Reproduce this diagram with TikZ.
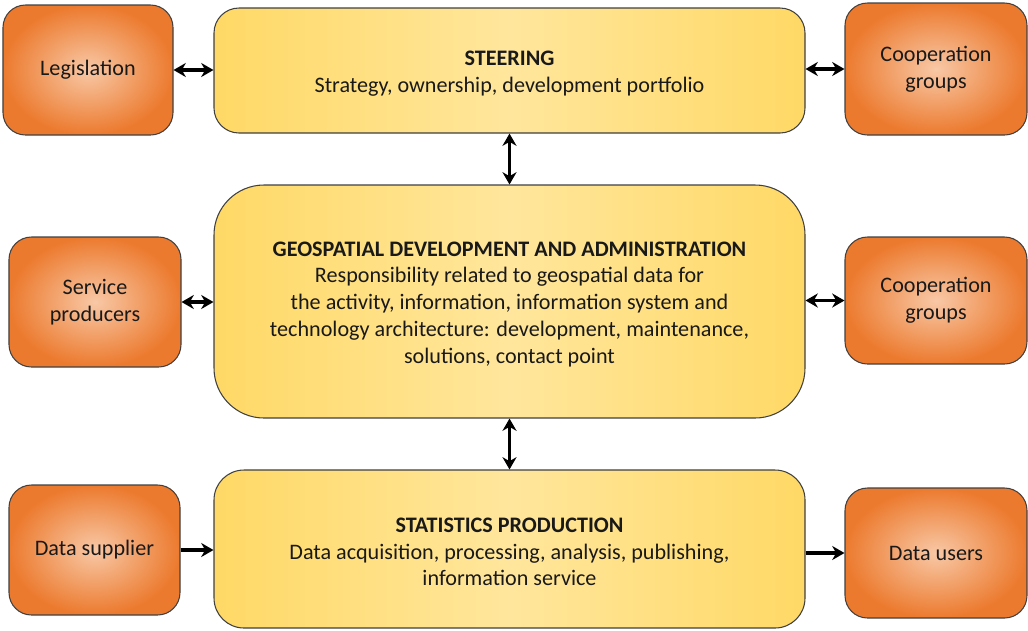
\documentclass[tikz,border=0pt]{standalone}
\usepackage{fontspec}
\setmainfont{Carlito}
\usetikzlibrary{arrows.meta,positioning}
\definecolor{orangeout}{HTML}{EC7A2E}
\definecolor{orangein}{HTML}{F8C8A6}
\definecolor{yellowside}{HTML}{FFD966}
\definecolor{yellowmid}{HTML}{FFE69C}
\definecolor{edge}{HTML}{404040}
\newcommand{\toprule}{\rule{0pt}{11.5pt}}
\tikzset{
  party/.style={draw=edge,line width=0.6pt,rounded corners=0.45cm,inner color=orangein,outer color=orangeout,
    align=center,text=black!90,font=\fontsize{12.6}{15.3}\selectfont},
  unit/.style={draw=edge,line width=0.6pt,left color=yellowside,right color=yellowside,middle color=yellowmid,
    minimum width=11.82cm,align=center,text=black!90,font=\fontsize{12.6}{15.3}\selectfont},
  link/.style={line width=2pt,{Stealth[length=7pt,width=8pt]}-{Stealth[length=7pt,width=8pt]}},
  flow/.style={line width=2pt,-{Stealth[length=7pt,width=8pt]}}
}
\begin{document}
\begin{tikzpicture}
\useasboundingbox (0,0) rectangle (20.56,-12.6);
\node[unit,rounded corners=0.5cm,minimum height=2.5cm](steer) at (10.19,-1.41){\toprule\textbf{STEERING}\\Strategy, ownership, development portfolio};
\node[unit,rounded corners=1cm,minimum height=4.66cm](geo) at (10.19,-6.03){\toprule\textbf{GEOSPATIAL DEVELOPMENT AND ADMINISTRATION}\\Responsibility related to geospatial data for\\the activity, information, information system and\\technology architecture: development, maintenance,\\solutions, contact point};
\node[unit,rounded corners=0.6cm,minimum height=3.16cm](stat) at (10.19,-10.98){\toprule\textbf{STATISTICS PRODUCTION}\\Data acquisition, processing, analysis, publishing,\\information service};

\node[party,minimum width=3.4cm,minimum height=2.6cm](legis) at (1.76,-1.4){Legislation};
\node[party,minimum width=3.64cm,minimum height=2.64cm](coopa) at (18.72,-1.38){Cooperation\\groups};
\node[party,minimum width=3.44cm,minimum height=2.6cm](prod) at (1.9,-6.04){Service\\producers};
\node[party,minimum width=3.64cm,minimum height=2.54cm](coopb) at (18.72,-6.01){Cooperation\\groups};
\node[party,minimum width=3.42cm,minimum height=2.6cm](supp) at (1.89,-11.0){Data supplier};
\node[party,minimum width=3.64cm,minimum height=2.6cm](users) at (18.72,-11.06){Data users};

\draw[link](legis.east)--(legis.east-|steer.west);
\draw[link](steer.east|-coopa.west)--(coopa.west);
\draw[link](prod.east)--(prod.east-|geo.west);
\draw[link](geo.east|-coopb.west)--(coopb.west);
\draw[link](steer.south)--(geo.north);
\draw[link](geo.south)--(stat.north);
\draw[flow](supp.east)--(supp.east-|stat.west);
\draw[flow](stat.east|-users.west)--(users.west);
\end{tikzpicture}
\end{document}
